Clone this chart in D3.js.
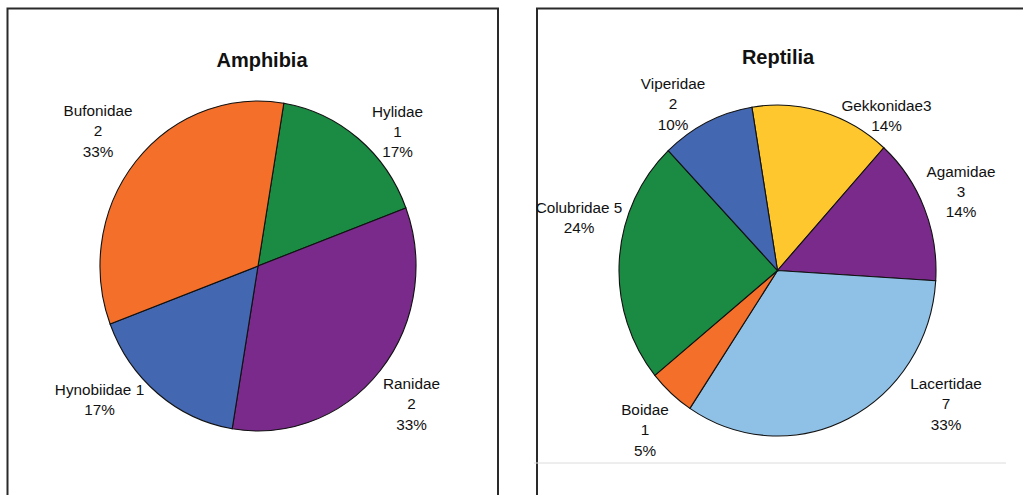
<!DOCTYPE html>
<html>
<head>
<meta charset="utf-8">
<script src="https://cdn.jsdelivr.net/npm/d3@7"></script>
<style>
  html, body { margin: 0; padding: 0; background: #fff; }
  svg { display: block; }
  text { font-family: "Liberation Sans", Arial, sans-serif; fill: #111; }
</style>
</head>
<body>
<svg id="chart" width="1023" height="495"></svg>
<script>
// ---- data ----
const amphibiaTitle = "Amphibia";
const amphibiaFamilies = ["Hylidae", "Ranidae", "Hynobiidae", "Bufonidae"];
const amphibiaCounts = [1, 2, 1, 2];

const reptiliaTitle = "Reptilia";
const reptiliaFamilies = ["Gekkonidae", "Agamidae", "Lacertidae", "Boidae", "Colubridae", "Viperidae"];
const reptiliaCounts = [3, 3, 7, 1, 5, 2];

// ---- styles / layout ----
const amphibiaColors = ["#1b8a43", "#7a2a8b", "#4367b1", "#f36f2a"];
const reptiliaColors = ["#fec72e", "#7a2a8b", "#8fc0e6", "#f36f2a", "#1b8a43", "#4367b1"];

// label format: "stack" = name / count / pct, "inline" = "name count" / pct, "joined" = "namecount" / pct
const amphibiaLabelFmt = ["stack", "stack", "inline", "stack"];
const amphibiaLabelPos = [[397.5, 116.5], [411.5, 389], [99.5, 395], [98, 116]];
const reptiliaLabelFmt = ["joined", "stack", "stack", "stack", "inline", "stack"];
const reptiliaLabelPos = [[886.5, 110.5], [961, 176.5], [946, 389], [645, 415], [579, 213], [673, 89]];

const svg = d3.select("#chart");

// panel frames
svg.append("rect").attr("x", 7.5).attr("y", 8.5).attr("width", 490.5).attr("height", 520)
  .attr("fill", "none").attr("stroke", "#2a2a2a").attr("stroke-width", 2);
svg.append("rect").attr("x", 537).attr("y", 8.5).attr("width", 520).attr("height", 520)
  .attr("fill", "none").attr("stroke", "#2a2a2a").attr("stroke-width", 2);
svg.append("line").attr("x1", 534).attr("x2", 1006).attr("y1", 463).attr("y2", 463)
  .attr("stroke", "#dcdcdc").attr("stroke-width", 1);

function drawPie(cfg) {
  const total = d3.sum(cfg.counts);
  const pie = d3.pie().sort(null).value(d => d)
    .startAngle(cfg.start * Math.PI / 180)
    .endAngle(cfg.start * Math.PI / 180 + 2 * Math.PI);
  const arc = d3.arc().innerRadius(0).outerRadius(cfg.rx);
  const g = svg.append("g")
    .attr("transform", `translate(${cfg.cx},${cfg.cy}) scale(1,${cfg.ry / cfg.rx})`);
  g.selectAll("path").data(pie(cfg.counts)).join("path")
    .attr("d", arc)
    .attr("fill", (d, i) => cfg.colors[i])
    .attr("stroke", "#111")
    .attr("stroke-width", 1.1)
    .attr("vector-effect", "non-scaling-stroke");

  svg.append("text").attr("x", cfg.titleX).attr("y", cfg.titleY)
    .attr("text-anchor", "middle").attr("font-size", 20).attr("font-weight", "bold")
    .text(cfg.title);

  cfg.families.forEach((name, i) => {
    const v = cfg.counts[i];
    const pct = Math.round(v / total * 100) + "%";
    let lines;
    if (cfg.fmt[i] === "stack") lines = [name, String(v), pct];
    else if (cfg.fmt[i] === "inline") lines = [name + " " + v, pct];
    else lines = [name + v, pct];
    const t = svg.append("text")
      .attr("x", cfg.labelPos[i][0]).attr("y", cfg.labelPos[i][1])
      .attr("text-anchor", "middle").attr("font-size", 15.3);
    lines.forEach((ln, k) => {
      t.append("tspan").attr("x", cfg.labelPos[i][0]).attr("dy", k === 0 ? 0 : 20.3).text(ln);
    });
  });
}

drawPie({
  title: amphibiaTitle, titleX: 262, titleY: 67,
  families: amphibiaFamilies, counts: amphibiaCounts, colors: amphibiaColors,
  fmt: amphibiaLabelFmt, labelPos: amphibiaLabelPos,
  cx: 258, cy: 266, rx: 158, ry: 165, start: 9.4
});

drawPie({
  title: reptiliaTitle, titleX: 778, titleY: 64,
  families: reptiliaFamilies, counts: reptiliaCounts, colors: reptiliaColors,
  fmt: reptiliaLabelFmt, labelPos: reptiliaLabelPos,
  cx: 777.5, cy: 270.5, rx: 158.5, ry: 165.5, start: -9.3
});
</script>
</body>
</html>
